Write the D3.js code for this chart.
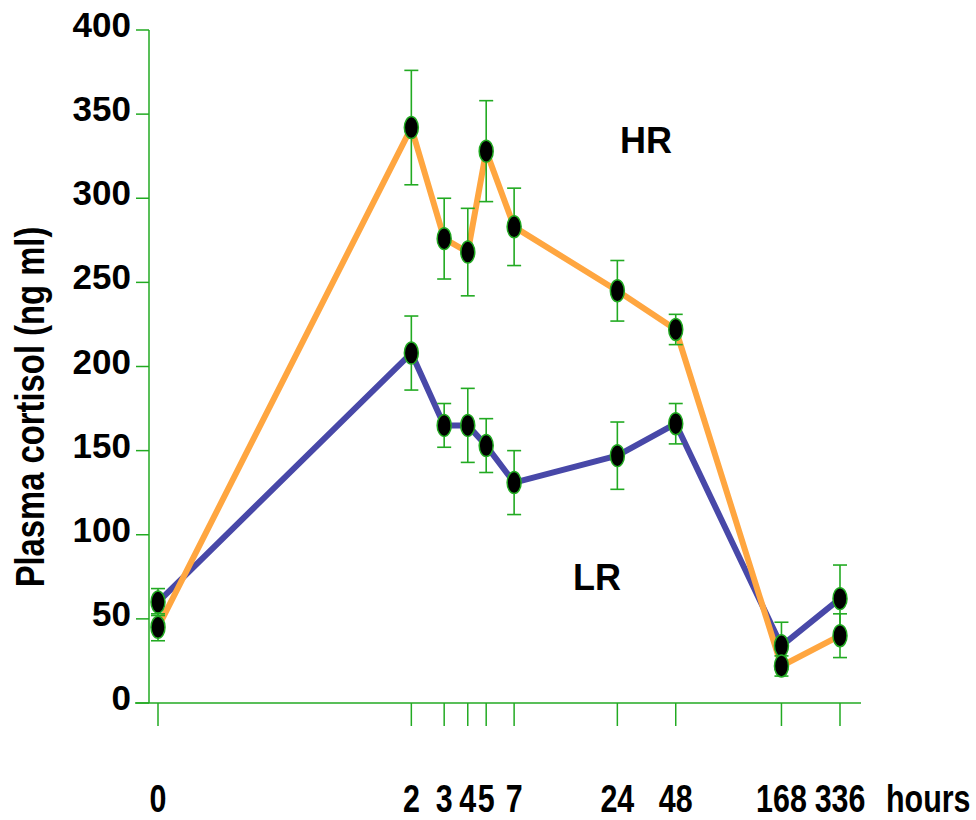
<!DOCTYPE html>
<html>
<head>
<meta charset="utf-8">
<script src="https://cdn.jsdelivr.net/npm/d3@7"></script>
<style>
  body { margin: 0; background: #fff; }
  text { font-family: "Liberation Sans", Arial, sans-serif; font-weight: bold; fill: #000; }
</style>
</head>
<body>
<div id="chart"></div>
<script>
// sampling times (hours) and plasma cortisol means / errors
const hours = [0, 2, 3, 4, 5, 7, 24, 48, 168, 336];
const hrMean = [45, 342, 276, 268, 328, 283, 245, 222, 22, 40];
const hrErr = [8, 34, 24, 26, 30, 23, 18, 9, 6, 13];
const lrMean = [60, 208, 165, 165, 153, 131, 147, 166, 34, 62];
const lrErr = [8, 22, 13, 22, 16, 19, 20, 12, 14, 20];
const yTicks = [0, 50, 100, 150, 200, 250, 300, 350, 400];

const width = 976, height = 820;
const green = '#22aa22';

const svg = d3.select('#chart').append('svg')
    .attr('width', width)
    .attr('height', height);

// time axis is log-like, symlog matches the spacing
const x = d3.scaleSymlog()
    .constant(0.105)
    .domain([0, 336])
    .range([158, 840]);

const y = d3.scaleLinear()
    .domain([0, 400])
    .range([703, 30]);

// y axis
svg.append('line')
    .attr('x1', 149).attr('x2', 149)
    .attr('y1', y(400)).attr('y2', y(0))
    .attr('stroke', green).attr('stroke-width', 1.5);

svg.selectAll('.ytick')
    .data(yTicks)
    .enter()
    .append('line')
    .attr('x1', 136).attr('x2', 149)
    .attr('y1', d => y(d)).attr('y2', d => y(d))
    .attr('stroke', green).attr('stroke-width', 1.5);

svg.selectAll('.ylab')
    .data(yTicks)
    .enter()
    .append('text')
    .attr('x', 131)
    .attr('y', d => y(d) + 7)
    .attr('text-anchor', 'end')
    .style('font-size', '35px')
    .text(d => d);

// x axis
svg.append('line')
    .attr('x1', 135).attr('x2', 861)
    .attr('y1', y(0)).attr('y2', y(0))
    .attr('stroke', green).attr('stroke-width', 1.5);

svg.selectAll('.xtick')
    .data(hours)
    .enter()
    .append('line')
    .attr('x1', d => x(d)).attr('x2', d => x(d))
    .attr('y1', y(0)).attr('y2', y(0) + 23)
    .attr('stroke', green).attr('stroke-width', 1.5);

svg.selectAll('.xlab')
    .data(hours)
    .enter()
    .append('text')
    .attr('transform', d => `translate(${x(d)},812) scale(0.8,1)`)
    .attr('text-anchor', 'middle')
    .style('font-size', '38px')
    .text(d => d);

svg.append('text')
    .attr('transform', 'translate(886,812) scale(0.8,1)')
    .style('font-size', '38px')
    .text('hours');

svg.append('text')
    .attr('transform', 'translate(44,407) rotate(-90) scale(0.82,1)')
    .attr('text-anchor', 'middle')
    .style('font-size', '40px')
    .text('Plasma cortisol (ng ml)');

// series
const series = [
    { mean: lrMean, err: lrErr, color: '#4848a8' },
    { mean: hrMean, err: hrErr, color: '#ffa640' }
];

const line = d3.line()
    .x(d => x(d.h))
    .y(d => y(d.v));

series.forEach(s => {
    const pts = hours.map((h, i) => ({ h: h, v: s.mean[i], e: s.err[i] }));
    svg.append('path')
        .datum(pts)
        .attr('d', line)
        .attr('fill', 'none')
        .attr('stroke', s.color)
        .attr('stroke-width', 6)
        .attr('stroke-linejoin', 'round');
    s.pts = pts;
});

series.forEach(s => {
    const g = svg.append('g');
    const bars = g.selectAll('g')
        .data(s.pts)
        .enter()
        .append('g')
        .attr('stroke', green)
        .attr('stroke-width', 1.6);
    bars.append('line')
        .attr('x1', d => x(d.h)).attr('x2', d => x(d.h))
        .attr('y1', d => y(d.v - d.e)).attr('y2', d => y(d.v + d.e));
    bars.append('line')
        .attr('x1', d => x(d.h) - 7).attr('x2', d => x(d.h) + 7)
        .attr('y1', d => y(d.v + d.e)).attr('y2', d => y(d.v + d.e));
    bars.append('line')
        .attr('x1', d => x(d.h) - 7).attr('x2', d => x(d.h) + 7)
        .attr('y1', d => y(d.v - d.e)).attr('y2', d => y(d.v - d.e));
});

series.forEach(s => {
    svg.append('g').selectAll('ellipse')
        .data(s.pts)
        .enter()
        .append('ellipse')
        .attr('cx', d => x(d.h))
        .attr('cy', d => y(d.v))
        .attr('rx', 7)
        .attr('ry', 11)
        .attr('fill', '#000')
        .attr('stroke', green)
        .attr('stroke-width', 1.5);
});

svg.append('text')
    .attr('x', 620).attr('y', 153)
    .style('font-size', '36px')
    .text('HR');

svg.append('text')
    .attr('x', 573).attr('y', 590)
    .style('font-size', '36px')
    .text('LR');
</script>
</body>
</html>
